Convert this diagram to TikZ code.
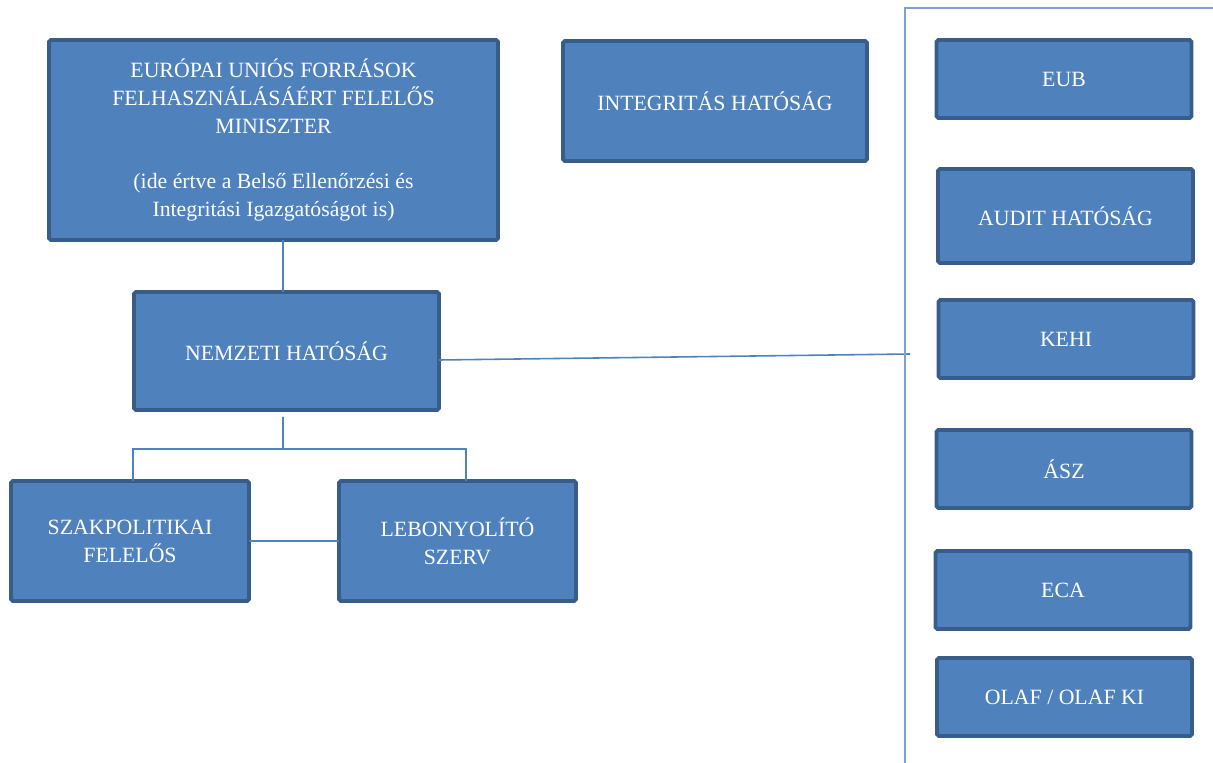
\documentclass[tikz,border=0pt]{standalone}
\usepackage{fontspec}
\setmainfont{Liberation Serif}
\usepackage{tikz}
\usetikzlibrary{positioning}
\usetikzlibrary{calc}
\definecolor{boxfill}{HTML}{4F81BD}
\definecolor{boxline}{HTML}{385D8A}
\definecolor{linkcol}{HTML}{4F81BD}
\definecolor{framecol}{HTML}{7FA0D2}

\begin{document}
\begin{tikzpicture}[x=0.02cm,y=-0.02cm,
	every node/.style={inner sep=1,outer sep=0,font=\fontsize{12.4}{15.9}\selectfont},
	box/.style={draw=boxline,fill=boxfill,line width=2.2pt,rounded corners=1pt,text=white,align=center},
	link/.style={draw=linkcol,line width=0.9pt},
	frame/.style={draw=framecol,line width=1pt}]
	\useasboundingbox (0,0) rectangle (1213,763);
	% left side
	\node (min) [box,minimum width=8.98cm,minimum height=4cm] at (273.5,140) {EURÓPAI UNIÓS FORRÁSOK\\FELHASZNÁLÁSÁÉRT FELELŐS\\MINISZTER\\[15.9pt](ide értve a Belső Ellenőrzési és\\Integritási Igazgatóságot is)};
	\node (int) [box,minimum width=6.08cm,minimum height=2.4cm] at (715,101) {INTEGRITÁS HATÓSÁG};
	\node (nem) [box,minimum width=6.1cm,minimum height=2.36cm] at (286.5,351) {NEMZETI HATÓSÁG};
	\node (szak) [box,minimum width=4.76cm,minimum height=2.4cm] at (130,541) {SZAKPOLITIKAI\\FELELŐS};
	\node (leb) [box,minimum width=4.74cm,minimum height=2.4cm] at (457.5,541) {LEBONYOLÍTÓ\\SZERV};
	% right side
	\node (eub) [box,minimum width=5.1cm,minimum height=1.56cm] at (1064,79) {EUB};
	\node (audit) [box,minimum width=5.1cm,minimum height=1.88cm] at (1065.5,216) {AUDIT HATÓSÁG};
	\node (kehi) [box,minimum width=5.1cm,minimum height=1.56cm] at (1066,339) {KEHI};
	\node (asz) [box,minimum width=5.1cm,minimum height=1.56cm] at (1064,469) {ÁSZ};
	\node (eca) [box,minimum width=5.1cm,minimum height=1.56cm] at (1063,590) {ECA};
	\node (olaf) [box,minimum width=5.1cm,minimum height=1.56cm] at (1064.5,697) {OLAF / OLAF KI};
	\coordinate (fork) at (283,449);
	\coordinate (stub) at (910,354);
	\path[link]
		([xshift=-0.07cm]nem.north) edge ([xshift=-0.07cm]nem.north |- min.south)
		([xshift=-0.07cm,yshift=-0.14cm]nem.south) edge (fork)
		(szak.east) edge (leb.west)
		([yshift=-0.18cm]nem.east) edge (stub);
	\draw[link] ([xshift=0.06cm]szak.north) |- (fork) -| ([xshift=0.17cm]leb.north);
	\draw[frame] (1213,8) -| (905,763);
\end{tikzpicture}
\end{document}
